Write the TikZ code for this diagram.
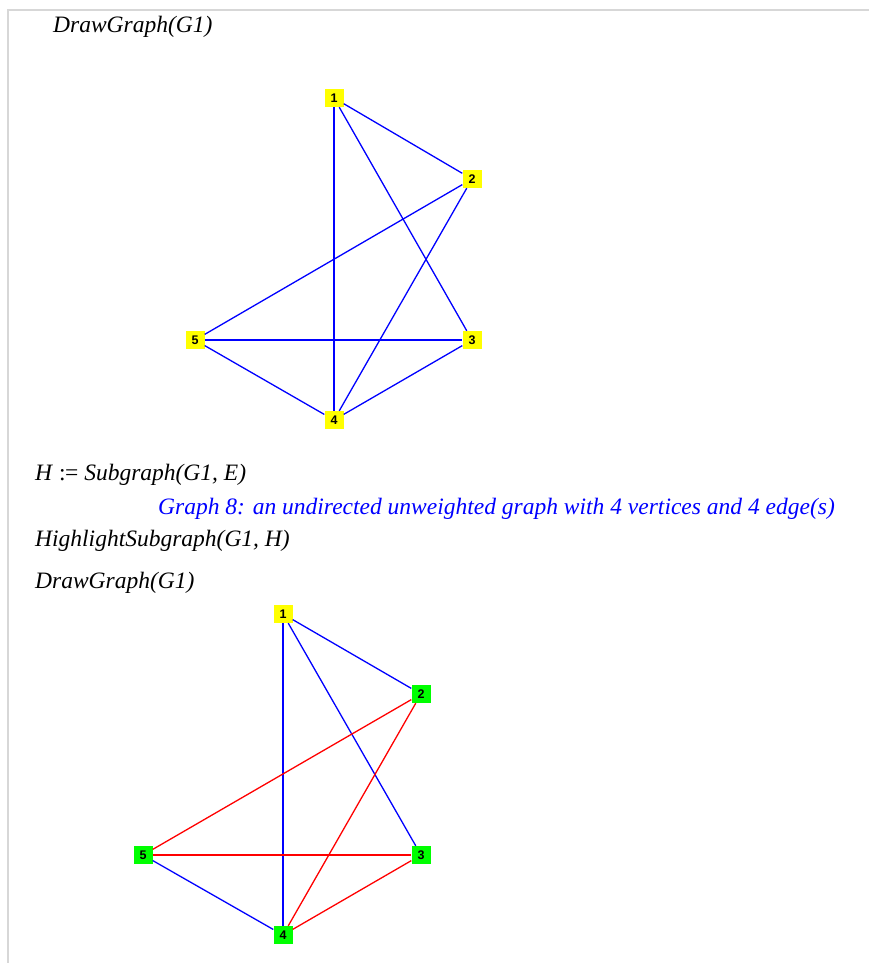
\documentclass[tikz,border=0pt]{standalone}
\usepackage{fontspec}
\setmainfont{Liberation Serif}
\newfontfamily\labelfont{Liberation Sans}
\usetikzlibrary{positioning}
\definecolor{vyellow}{RGB}{255,255,0}
\definecolor{vgreen}{RGB}{0,255,0}
\definecolor{framegray}{RGB}{215,215,215}
\definecolor{mblue}{RGB}{0,0,255}
\definecolor{mred}{RGB}{255,0,0}

\begin{document}
\begin{tikzpicture}[
    x=1pt, y=-1pt,
    vert/.style={fill=vyellow, minimum width=19pt, minimum height=18pt, inner sep=0pt, font=\labelfont\bfseries\fontsize{12.5}{12.5}\selectfont},
    hvert/.style={vert, fill=vgreen},
    link/.style={mblue, line width=1.3pt},
    heavy/.style={mblue, line width=2.6pt},
    hlink/.style={mred, line width=1.3pt},
    cmd/.style={anchor=base west, inner sep=0pt, font=\fontsize{23.5}{28}\selectfont\itshape},
    reply/.style={cmd, text=mblue}
]
\useasboundingbox (0,0) rectangle (869,963);
\draw[framegray, line width=1.5pt] (869,10) -- (8,10) -- (8,963);

\node[cmd] (dg1) at (53,33) {DrawGraph(G1)};

% first drawing of G1
\node[vert] (g1) at (334,98) {1};
\node[vert] (g2) at (472,179) {2};
\node[vert] (g3) at (472,340) {3};
\node[vert] (g4) at (334,420) {4};
\node[vert] (g5) at (195,340) {5};
\draw[link] (g1) -- (g2);
\draw[link] (g1) -- (g3);
\draw[heavy] (g1) -- (g4);
\draw[link] (g2) -- (g5);
\draw[link] (g2) -- (g4);
\draw[heavy] (g5) -- (g3);
\draw[link] (g5) -- (g4);
\draw[link] (g3) -- (g4);

\node[cmd] (sub) at (35,480) {H \textup{:\kern-0.5pt=} Subgraph(G1, E)};
\node[reply] (info) at (158,514) {Graph 8: an undirected unweighted graph with 4 vertices and 4 edge(s)};
\node[cmd] (hl) at (35,546) {HighlightSubgraph(G1, H)};
\node[cmd] (dg2) at (35,588) {DrawGraph(G1)};

% G1 with H highlighted
\node[vert] (h1) at (283,614) {1};
\node[hvert] (h2) at (421,694) {2};
\node[hvert] (h3) at (421,855) {3};
\node[hvert] (h4) at (283,935) {4};
\node[hvert] (h5) at (143,855) {5};
\draw[link] (h1) -- (h2);
\draw[link] (h1) -- (h3);
\draw[heavy] (h1) -- (h4);
\draw[hlink] (h2) -- (h5);
\draw[hlink] (h2) -- (h4);
\draw[hlink] (h5) -- (h3);
\draw[link] (h5) -- (h4);
\draw[hlink] (h3) -- (h4);
\end{tikzpicture}
\end{document}
